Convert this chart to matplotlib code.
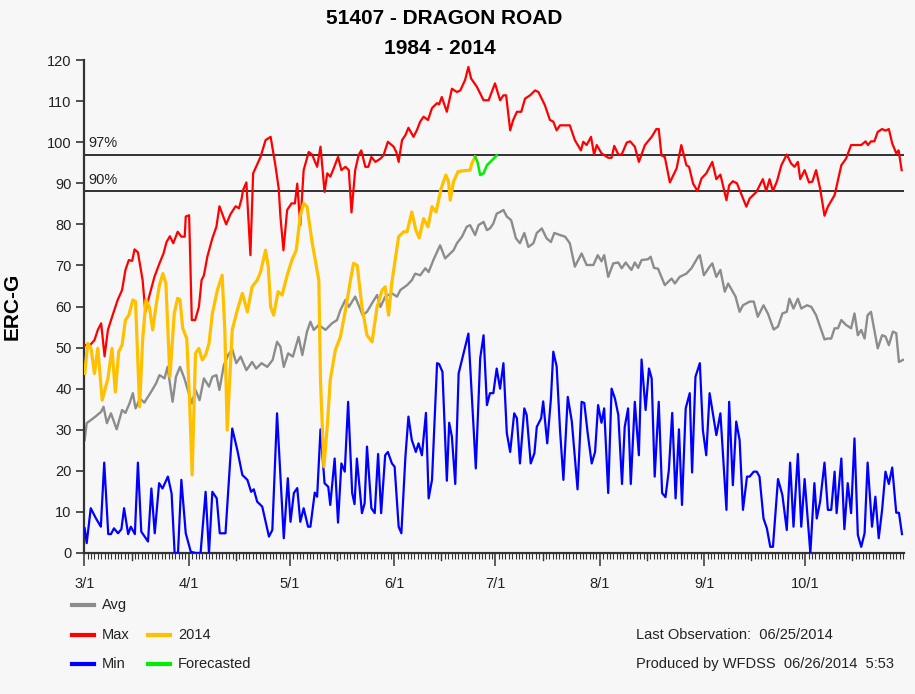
import matplotlib
matplotlib.use("Agg")
import matplotlib.pyplot as plt
from matplotlib.ticker import FixedLocator, MultipleLocator

plt.rcParams['font.family'] = ['Liberation Sans Narrow', 'Liberation Sans', 'DejaVu Sans']

# ---------------- data (day offset from 3/1, ERC-G value) ----------------
month_days = [0, 31, 61, 92, 122, 153, 184, 214]
month_labels = ['3/1', '4/1', '5/1', '6/1', '7/1', '8/1', '9/1', '10/1']
mid_days = [14, 45, 75, 106, 136, 167, 198, 228]

pct97 = 96.8
pct90 = 88.0

max_day = [0.1, 1.7, 3.0, 4.0, 5.0, 6.0, 7.0, 8.4, 9.9, 11.2, 12.2, 13.2, 14.2, 14.9, 15.9,
           17.3, 18.1, 19.1, 20.8, 22.3, 23.5, 24.4, 25.4, 26.4, 27.7, 28.8, 29.8, 30.1, 31.1,
           31.9, 32.9, 34.0, 34.8, 35.5, 36.5, 38.0, 39.2, 40.1, 42.1, 43.4, 44.9, 45.9, 46.7,
           47.1, 48.1, 49.3, 50.1, 52.3, 53.8, 55.3, 56.7, 57.7, 58.2, 59.1, 60.2, 61.5, 62.5,
           63.2, 64.1, 65.1, 66.6, 67.6, 69.1, 70.1, 71.3, 72.1, 73.0, 74.0, 75.3, 76.3, 77.5,
           78.5, 79.3, 80.4, 81.4, 82.2, 83.4, 84.3, 85.2, 86.4, 87.9, 88.8, 90.1, 91.8, 92.6,
           93.3, 94.3, 95.3, 96.2, 97.7, 98.7, 99.7, 100.7, 102.0, 103.2, 104.7, 105.3, 106.1,
           107.6, 109.1, 110.6, 111.6, 113.0, 114.0, 114.8, 116.5, 118.5, 120.0, 121.9, 123.4,
           124.4, 125.2, 126.4, 127.3, 128.4, 129.7, 130.8, 132.3, 133.8, 134.8, 136.7, 138.2,
           139.2, 140.2, 141.2, 144.1, 145.6, 147.4, 148.1, 149.1, 150.4, 151.3, 152.1, 153.5,
           155.5, 156.5, 157.3, 158.5, 159.5, 161.0, 162.0, 163.4, 164.6, 166.4, 168.4, 169.8,
           170.5, 171.3, 172.3, 173.8, 175.8, 177.2, 178.7, 179.5, 180.7, 182.0, 183.2, 184.6,
           186.4, 187.6, 188.8, 190.6, 191.4, 192.5, 193.7, 196.5, 197.5, 199.5, 201.4, 202.4,
           203.4, 204.4, 205.6, 206.9, 208.5, 209.8, 210.8, 211.8, 212.5, 213.8, 215.1, 216.1,
           217.2, 218.4, 219.7, 220.7, 222.7, 224.7, 226.1, 227.6, 230.6, 231.9, 232.6, 233.5,
           234.5, 235.5, 236.8, 237.8, 238.8, 239.8, 241.0, 241.7, 242.6]
max_val = [50.6, 50.6, 51.8, 54.3, 55.9, 47.9, 54.3, 57.9, 61.6, 64.0, 68.9, 71.3, 71.1, 73.9, 73.2,
           66.4, 58.7, 62.0, 67.2, 70.5, 72.9, 75.7, 77.1, 75.4, 78.2, 77.0, 77.0, 81.9, 82.2,
           56.7, 56.7, 59.9, 66.4, 67.6, 72.1, 76.6, 79.4, 84.4, 80.0, 82.5, 84.4, 83.9, 86.3,
           88.3, 90.2, 72.5, 92.4, 96.4, 100.5, 101.3, 94.4, 88.7, 81.9, 73.7, 83.5, 85.1, 85.1,
           89.9, 79.8, 93.2, 97.6, 97.0, 94.0, 98.9, 87.9, 92.4, 91.6, 93.6, 96.4, 93.2, 94.0,
           93.2, 82.9, 93.2, 96.8, 98.0, 94.0, 94.0, 96.4, 95.2, 96.0, 96.8, 100.1, 98.9, 97.6,
           95.2, 100.5, 101.7, 103.5, 101.3, 102.9, 105.0, 106.2, 105.4, 108.3, 109.5, 109.2, 111.0,
           107.4, 113.0, 112.2, 112.6, 115.1, 118.3, 115.5, 113.5, 110.2, 110.2, 114.3, 110.2,
           111.4, 111.4, 102.9, 105.4, 107.4, 107.4, 110.6, 111.4, 112.6, 112.2, 109.0, 105.4,
           105.0, 102.9, 104.1, 104.1, 100.5, 98.0, 100.1, 99.3, 101.3, 97.0, 99.3, 97.3,
           96.2, 96.2, 99.1, 97.0, 97.0, 99.9, 100.2, 98.9, 95.2, 99.3, 101.3, 103.2,
           103.2, 96.8, 96.4, 90.2, 93.6, 99.3, 94.4, 94.0, 89.9, 88.1, 91.2, 92.4,
           95.2, 91.0, 92.1, 85.9, 89.5, 90.5, 90.0, 84.3, 86.3, 87.9, 91.0, 88.1,
           91.0, 88.1, 90.5, 94.4, 97.0, 94.8, 94.0, 95.2, 91.0, 93.2, 90.2, 90.4,
           93.2, 88.7, 82.1, 84.3, 87.1, 94.4, 96.0, 99.3, 99.3, 100.2, 99.3, 100.2,
           100.2, 102.5, 103.2, 102.8, 103.2, 99.7, 97.3, 98.0, 93.2]

avg_day = [0.1, 0.7, 2.0, 3.3, 5.0, 5.7, 6.7, 7.9, 9.6, 11.2, 12.2, 13.4, 14.4, 15.2, 16.5, 17.8,
           19.8, 21.3, 22.3, 23.8, 24.7, 26.2, 27.2, 28.4, 29.7, 30.7, 31.9, 33.0, 34.2, 35.5,
           37.0, 38.0, 39.2, 40.1, 41.4, 42.7, 43.9, 45.1, 46.4, 48.1, 49.8, 51.0, 52.6, 54.3,
           55.9, 57.2, 58.2, 59.2, 60.5, 61.9, 63.6, 64.7, 66.1, 67.1, 68.1, 69.6, 71.6, 73.5,
           75.0, 76.0, 77.5, 78.5, 80.4, 82.6, 83.9, 85.4, 86.9, 87.9, 89.3, 91.3, 92.8, 93.8,
           95.8, 97.2, 98.2, 99.7, 101.2, 102.2, 103.6, 105.6, 107.1, 108.1, 109.6, 110.6, 112.1,
           113.5, 114.5, 116.0, 117.0, 118.5, 119.5, 120.4, 121.4, 122.4, 123.4, 124.4, 125.4,
           126.7, 128.1, 129.3, 130.6, 131.8, 133.3, 134.3, 135.8, 137.2, 138.5, 139.5, 141.2,
           142.7, 144.1, 145.6, 147.6, 149.1, 151.1, 152.4, 153.5, 154.3, 155.5, 157.0, 158.5,
           159.5, 160.7, 161.6, 162.4, 163.4, 164.4, 165.4, 167.3, 168.1, 169.1, 170.3, 172.3,
           174.3, 175.3, 176.7, 178.7, 180.2, 182.2, 182.7, 183.9, 185.6, 186.4, 187.6, 188.8,
           190.1, 191.1, 193.3, 194.5, 195.5, 197.5, 198.7, 199.9, 201.6, 202.9, 204.6, 205.9,
           207.2, 208.5, 209.3, 210.5, 211.8, 212.8, 214.5, 215.8, 217.2, 219.7, 220.7, 221.7,
           222.7, 223.7, 224.7, 226.1, 227.6, 228.6, 229.6, 230.6, 231.6, 232.5, 233.5, 235.5,
           236.8, 237.8, 238.8, 240.0, 241.0, 241.8, 243.0]
avg_val = [27.5, 31.6, 32.4, 33.2, 34.4, 35.6, 31.6, 34.0, 30.1, 34.8, 34.1, 36.4, 38.9, 35.2, 37.6, 36.6,
           39.2, 41.3, 43.3, 42.5, 45.3, 36.8, 42.9, 45.3, 42.5, 39.7, 36.4, 39.7, 37.2, 42.5,
           40.5, 42.9, 43.3, 39.7, 45.7, 48.2, 49.6, 46.2, 47.8, 44.5, 46.5, 44.9, 46.2, 45.3,
           47.0, 51.4, 50.2, 45.3, 48.6, 47.8, 52.6, 48.2, 53.9, 56.3, 54.3, 55.5, 54.3, 55.9,
           56.7, 59.1, 61.6, 59.9, 62.4, 57.9, 58.7, 60.8, 62.8, 59.9, 62.4, 63.2, 62.4, 64.0,
           65.2, 66.4, 68.0, 67.6, 69.3, 68.4, 71.3, 74.9, 71.7, 72.5, 73.7, 75.4, 77.0,
           79.4, 79.8, 77.4, 79.8, 80.6, 78.6, 79.0, 80.2, 82.6, 83.0, 83.5, 81.9,
           81.0, 76.6, 75.4, 77.9, 74.5, 75.4, 77.9, 79.0, 76.6, 75.7, 77.9, 77.4,
           77.0, 75.4, 69.7, 72.9, 70.1, 70.1, 72.5, 71.0, 72.5, 67.2, 70.5, 70.7,
           69.3, 70.7, 69.7, 68.9, 70.7, 69.4, 71.3, 71.5, 72.1, 69.4, 69.2, 65.2,
           66.8, 65.6, 67.2, 68.0, 69.3, 72.1, 72.5, 67.6, 69.7, 70.5, 67.2, 68.9,
           63.6, 65.6, 62.4, 58.7, 60.3, 61.2, 61.2, 57.5, 60.3, 58.3, 54.4, 55.1,
           58.3, 58.7, 61.9, 59.5, 61.9, 59.5, 60.3, 59.9, 57.9, 52.0, 52.2, 52.2,
           54.7, 54.7, 56.7, 55.5, 54.7, 58.3, 53.0, 54.3, 52.2, 57.9, 58.7, 49.8,
           53.0, 52.7, 50.6, 53.9, 53.5, 46.5, 47.0]

min_day = [0.1, 0.7, 1.9, 3.4, 4.9, 5.9, 7.1, 7.9, 8.8, 10.0, 11.0, 11.8, 13.0, 13.8, 14.4, 15.0,
           15.9, 16.9, 18.9, 19.9, 20.9, 22.2, 23.2, 24.8, 25.9, 26.8, 27.8, 28.8, 30.1, 31.6,
           33.1, 34.5, 36.0, 37.0, 38.0, 39.3, 40.2, 41.9, 43.9, 45.4, 46.9, 48.4, 49.5, 50.3,
           51.3, 52.8, 54.8, 55.8, 57.2, 59.2, 60.4, 61.2, 62.2, 63.2, 64.1, 65.1, 66.4, 67.1,
           68.4, 69.1, 70.1, 71.3, 72.4, 73.0, 74.3, 75.3, 76.3, 77.3, 78.3, 79.5, 80.2, 80.9,
           82.4, 83.2, 83.9, 85.2, 86.2, 87.2, 88.1, 89.3, 90.1, 91.3, 92.1, 93.3, 94.1, 95.3,
           96.2, 97.2, 98.4, 99.2, 100.2, 101.4, 102.2, 103.2, 104.7, 105.3, 106.3, 107.6, 108.3,
           109.1, 110.1, 111.1, 112.2, 114.0, 116.2, 117.5, 118.5, 119.5, 120.4, 121.4, 122.4,
           123.4, 124.4, 125.4, 126.4, 127.6, 128.4, 129.3, 130.6, 131.3, 132.5, 133.6, 134.3,
           135.6, 136.2, 137.4, 138.5, 139.2, 140.2, 141.2, 142.2, 143.5, 144.7, 146.4, 147.6,
           148.4, 149.4, 150.6, 151.6, 152.5, 153.5, 154.3, 155.5, 156.5, 157.5, 158.5, 159.6,
           160.4, 161.4, 162.2, 163.4, 164.6, 165.4, 166.6, 167.6, 168.4, 169.3, 170.5, 171.5,
           172.5, 173.5, 174.5, 175.5, 176.5, 177.4, 178.5, 179.7, 180.4, 181.4, 182.7, 183.6,
           184.6, 185.6, 187.6, 188.8, 190.6, 191.4, 192.5, 193.5, 194.5, 195.5, 196.7, 197.5,
           198.7, 199.6, 200.4, 201.6, 202.6, 203.6, 204.4, 205.9, 207.2, 208.5, 209.5, 210.5,
           211.8, 212.8, 213.8, 214.5, 215.5, 216.7, 217.4, 218.4, 219.7, 220.7, 221.7, 222.7,
           223.3, 224.7, 225.6, 226.6, 227.6, 228.6, 229.6, 230.6, 231.6, 232.5, 233.8, 234.8,
           235.8, 236.8, 237.8, 238.8, 239.8, 241.0, 241.8, 242.7]
min_val = [6.0, 2.4, 10.9, 8.5, 6.4, 22.0, 4.6, 4.6, 6.0, 4.8, 5.8, 10.9, 4.6, 6.4, 5.5, 4.6,
           22.0, 5.2, 2.8, 15.7, 4.8, 17.0, 15.7, 18.6, 14.5, 0.0, 0.0, 17.8, 4.8, 0.3,
           0.0, 0.0, 14.9, 0.0, 14.9, 13.3, 4.8, 4.8, 30.3, 25.1, 19.0, 17.8, 14.9, 15.5,
           12.5, 11.3, 4.0, 5.6, 34.0, 3.6, 18.2, 7.6, 14.6, 15.8, 7.6, 10.9, 6.4, 6.4,
           14.7, 13.7, 30.1, 17.0, 16.1, 11.7, 23.0, 7.4, 21.8, 19.8, 36.8, 14.6, 11.9, 23.0,
           9.7, 12.1, 25.9, 10.9, 9.7, 24.1, 9.7, 23.8, 24.6, 21.8, 21.0, 6.4, 4.8, 23.4,
           33.2, 27.5, 24.6, 26.7, 23.8, 34.1, 13.3, 17.8, 46.2, 46.0, 44.1, 17.6, 31.7,
           28.3, 16.8, 43.7, 47.4, 53.4, 20.6, 47.4, 53.0, 36.0, 38.9, 38.9, 44.9,
           40.0, 46.2, 29.2, 24.6, 34.0, 32.8, 21.8, 35.2, 33.6, 21.8, 24.3, 30.7,
           32.8, 36.9, 26.7, 37.6, 49.0, 45.4, 29.9, 17.8, 38.0, 32.0, 15.5, 36.8,
           36.5, 29.2, 21.8, 24.6, 36.0, 31.7, 35.2, 14.6, 40.0, 37.6, 33.6, 16.8,
           30.7, 35.2, 16.8, 36.8, 23.8, 47.1, 34.8, 44.9, 42.5, 18.6, 36.8, 14.6,
           13.6, 20.2, 34.1, 13.3, 30.1, 11.7, 35.2, 38.9, 19.6, 42.9, 46.2, 29.9,
           23.8, 38.9, 28.7, 34.0, 10.5, 36.8, 16.5, 32.0, 27.5, 10.5, 18.6, 18.6,
           19.8, 19.8, 18.6, 8.4, 6.0, 1.5, 1.5, 18.0, 14.1, 5.6, 22.0, 6.4,
           24.1, 6.4, 18.0, 10.5, 0.0, 17.0, 8.4, 12.5, 22.0, 10.5, 10.5, 19.8,
           9.7, 23.0, 5.8, 17.0, 9.7, 27.9, 4.4, 1.5, 4.8, 22.0, 6.4, 13.7,
           3.6, 10.5, 19.8, 16.8, 20.8, 9.8, 9.8, 4.6]

y2014_day = [0.1, 1.0, 2.0, 3.0, 4.0, 5.3, 7.0, 8.2, 9.2, 10.2, 11.2, 12.2, 13.2, 14.4, 15.2, 16.4,
             17.3, 18.3, 19.3, 20.3, 21.3, 22.3, 23.3, 24.2, 25.4, 26.7, 27.7, 28.4, 29.2, 30.4,
             31.2, 32.0, 33.0, 34.0, 35.0, 36.0, 37.0, 38.0, 39.5, 40.9, 41.7, 42.4, 43.9, 45.4,
             46.9, 48.4, 49.8, 51.3, 52.3, 53.8, 54.6, 55.3, 56.2, 57.5, 58.7, 60.2, 61.7, 62.9,
             64.1, 65.1, 66.1, 67.6, 69.6, 70.1, 71.1, 72.1, 73.0, 74.5, 76.0, 77.5, 79.0, 79.9,
             81.0, 82.4, 83.9, 85.4, 86.9, 88.4, 89.3, 90.3, 91.3, 93.3, 94.8, 95.8, 97.2, 98.4,
             99.4, 100.7, 102.0, 103.2, 104.4, 105.9, 107.3, 108.1, 108.6, 109.6, 110.9, 112.1,
             114.5, 115.0, 116.0]
y2014_val = [43.7, 51.0, 49.8, 43.7, 49.8, 37.2, 42.5, 49.8, 39.2, 49.0, 50.6, 56.7, 57.9, 61.6, 61.2, 35.6,
             51.8, 61.6, 59.9, 54.3, 60.3, 65.2, 68.0, 65.7, 42.9, 58.3, 62.0, 61.6, 54.7, 52.2,
             38.0, 19.0, 48.6, 49.8, 47.0, 48.2, 51.0, 58.3, 64.0, 67.6, 54.3, 29.9, 54.3, 59.1,
             63.2, 58.7, 64.8, 66.4, 68.4, 73.7, 69.7, 59.9, 57.9, 63.6, 62.8, 67.6, 71.5, 73.7,
             82.2, 85.1, 84.3, 75.7, 66.4, 42.0, 21.0, 30.7, 42.1, 49.4, 52.6, 59.1, 66.4, 70.5,
             70.0, 59.9, 53.0, 51.4, 59.9, 64.0, 64.8, 57.9, 66.0, 77.0, 78.2, 78.2, 83.0, 78.6,
             76.7, 81.4, 79.4, 84.3, 83.0, 88.7, 92.0, 90.4, 85.9, 90.4, 92.8, 93.0,
             93.2, 94.8, 96.4]

fc_day = [116.0, 116.7, 117.5, 118.5, 119.5, 121.0, 122.4]
fc_val = [96.4, 95.2, 92.0, 92.4, 94.4, 95.6, 96.8]

# ---------------- figure ----------------
BG = '#f7f7f7'
fig = plt.figure(figsize=(9.15, 6.94), dpi=100, facecolor=BG)
ax = fig.add_axes([84 / 915, 1 - 553 / 694, (904 - 84) / 915, (553 - 60) / 694])
ax.set_facecolor(BG)

c_avg, c_max, c_min, c_2014, c_fc = '#8c8c8c', '#ff0000', '#0000ff', '#ffc000', '#00ee00'

ax.axhline(pct97, color='#222222', lw=1.3, zorder=1)
ax.axhline(pct90, color='#222222', lw=1.3, zorder=1)
ax.text(1.2, pct97 + 1.2, '97%', fontsize=10.5, color='#222222', va='bottom', ha='left')
ax.text(1.2, pct90 + 1.2, '90%', fontsize=10.5, color='#222222', va='bottom', ha='left')

ax.plot(avg_day, avg_val, color=c_avg, lw=1.7, zorder=2)
ax.plot(min_day, min_val, color=c_min, lw=1.6, zorder=3)
ax.plot(max_day, max_val, color=c_max, lw=1.6, zorder=3)
ax.plot(y2014_day, y2014_val, color=c_2014, lw=2.3, zorder=4)
ax.plot(fc_day, fc_val, color=c_fc, lw=1.8, zorder=4)

ax.set_xlim(-0.1, 243.3)
ax.set_ylim(0, 120)
for s in ['top', 'right']:
    ax.spines[s].set_visible(False)
for s in ['left', 'bottom']:
    ax.spines[s].set_color('#333333')
    ax.spines[s].set_linewidth(1.6)

ax.yaxis.set_major_locator(MultipleLocator(10))
ax.tick_params(axis='y', which='major', length=6, width=1.2, color='#333333',
               labelsize=10.5, labelcolor='#222222', pad=3)
ax.xaxis.set_major_locator(FixedLocator(month_days))
ax.set_xticklabels(month_labels)
ax.xaxis.set_minor_locator(FixedLocator(list(range(0, 244))))
ax.tick_params(axis='x', which='major', length=9, width=1.1, color='#333333',
               labelsize=10.5, labelcolor='#222222', pad=8)
ax.tick_params(axis='x', which='minor', length=4, width=0.8, color='#333333')
for d in mid_days:
    ax.plot([d, d], [0, -1.7], color='#333333', lw=1.0, clip_on=False, zorder=5)

ax.set_ylabel('ERC-G', fontsize=15, fontweight='bold', labelpad=18)

fig.text(444 / 915, 1 - 19 / 694, '51407 - DRAGON ROAD', ha='center', va='center',
         fontsize=15, fontweight='bold')
fig.text(440 / 915, 1 - 49 / 694, '1984 - 2014', ha='center', va='center',
         fontsize=15, fontweight='bold')

# legend (manual layout)
def leg(x0, y, color, label):
    fig.add_artist(plt.Line2D([x0 / 915, (x0 + 22) / 915], [1 - y / 694, 1 - y / 694],
                              color=color, lw=3, transform=fig.transFigure))
    fig.text((x0 + 30) / 915, 1 - y / 694, label, ha='left', va='center', fontsize=10.5,
             color='#222222')

leg(72, 605, c_avg, 'Avg')
leg(72, 635, c_max, 'Max')
leg(148, 635, c_2014, '2014')
leg(72, 664, c_min, 'Min')
leg(148, 664, c_fc, 'Forecasted')

fig.text(636 / 915, 1 - 635 / 694, 'Last Observation:  06/25/2014', ha='left', va='center',
         fontsize=10.5, color='#222222')
fig.text(636 / 915, 1 - 664 / 694, 'Produced by WFDSS  06/26/2014  5:53', ha='left', va='center',
         fontsize=10.5, color='#222222')

fig.savefig('out.png', dpi=100, facecolor=BG)
